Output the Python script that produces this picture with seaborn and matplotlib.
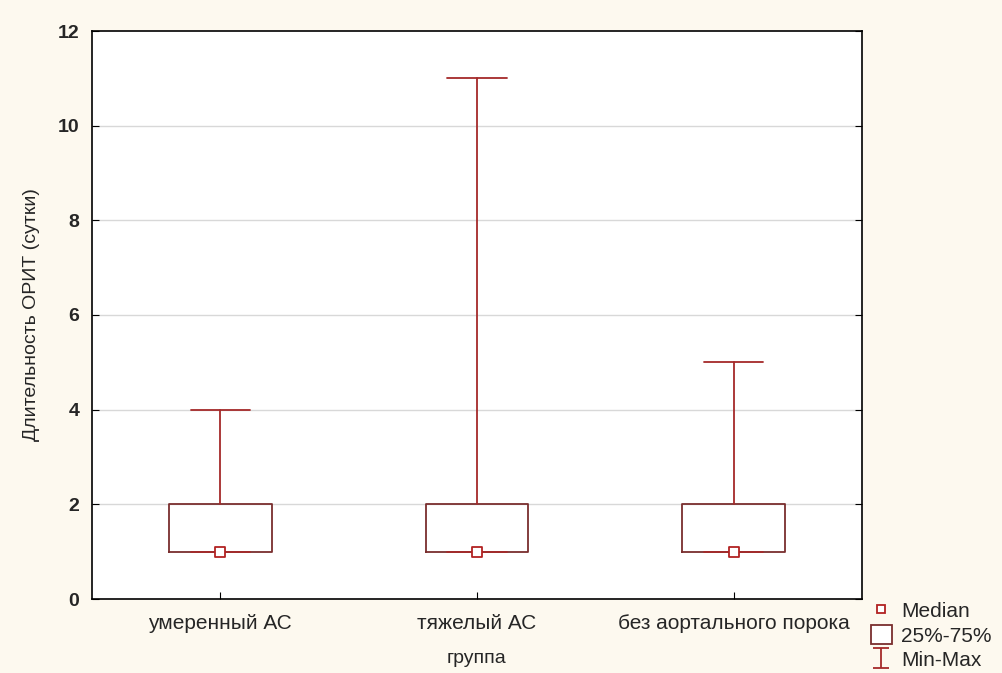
import numpy as np
import pandas as pd
import matplotlib
matplotlib.use("Agg")
import matplotlib.pyplot as plt
import seaborn as sns
from matplotlib.lines import Line2D
from matplotlib.patches import Patch

# summary values (days in ICU)
groups = ['умеренный АС', 'тяжелый АС', 'без аортального порока']
medians = [1, 1, 1]
q1 = [1, 1, 1]
q3 = [2, 2, 2]
mins = [1, 1, 1]
maxs = [4, 11, 5]

df = pd.DataFrame({'группа': groups, 'median': medians, 'q1': q1, 'q3': q3,
                   'min': mins, 'max': maxs})

sns.set_style("white")
plt.rcParams['font.family'] = ['Liberation Sans', 'DejaVu Sans']

box_col = '#7a2e2e'
whisk_col = '#a52a2a'
bg = '#fdf9ef'
fs = 14

fig = plt.figure(figsize=(10.03, 6.73), dpi=100, facecolor=bg)
ax = fig.add_axes([92 / 1003, 1 - 599 / 673, 770 / 1003, 568 / 673])
ax.set_facecolor('white')

stats = [dict(med=r['median'], q1=r['q1'], q3=r['q3'], whislo=r['min'],
              whishi=r['max'], fliers=[], label=r['группа'])
         for _, r in df.iterrows()]
ax.bxp(stats, positions=range(len(groups)), widths=0.4, capwidths=0.23,
       showfliers=False,
       boxprops=dict(color=box_col, linewidth=1.3),
       whiskerprops=dict(color=whisk_col, linewidth=1.3),
       capprops=dict(color=whisk_col, linewidth=1.3),
       medianprops=dict(linewidth=0))

sns.scatterplot(data=df, x=range(len(groups)), y='median', ax=ax, marker='s',
                s=50, facecolor='white', edgecolor='#b22222', linewidth=1.3,
                zorder=5, legend=False)

ax.set_xlim(-0.5, 2.5)
ax.set_ylim(0, 12)
ax.set_yticks(range(0, 13, 2))
ax.set_xticks(range(len(groups)))
ax.set_xticklabels(groups, fontsize=15)
for t in ax.get_yticklabels():
    t.set_fontsize(fs)
    t.set_fontweight('bold')
for y in range(2, 12, 2):
    ax.axhline(y, color='#d8d8d8', linewidth=1, zorder=0)

ax.tick_params(axis='y', direction='in', length=5, left=True, right=True,
               color='black', pad=9)
ax.tick_params(axis='x', direction='in', length=5, bottom=True, color='black',
               pad=11)
for s in ax.spines.values():
    s.set_color('black')
    s.set_linewidth(1.2)

ax.set_xlabel('группа', fontsize=fs, labelpad=12)
ax.set_ylabel('Длительность ОРИТ (сутки)', fontsize=fs, labelpad=13)

# legend: median / box / min-max
eb = ax.errorbar([np.nan], [np.nan], yerr=[1], fmt='none', ecolor=whisk_col,
                 capsize=6, elinewidth=1.3, capthick=1.3)
handles = [Line2D([], [], marker='s', linestyle='none', markersize=6,
                  markerfacecolor='white', markeredgecolor='#b22222',
                  markeredgewidth=1.3),
           Patch(facecolor='white', edgecolor=box_col, linewidth=1.3),
           eb]
fig.legend(handles, ['Median', '25%-75%', 'Min-Max'], loc='lower right',
           bbox_to_anchor=(1.0, -0.013), frameon=False, fontsize=15,
           handlelength=1.0, handleheight=1.0, handletextpad=0.45,
           labelspacing=0.2, borderaxespad=0.15)

fig.savefig('out.png', dpi=100, facecolor=bg)
